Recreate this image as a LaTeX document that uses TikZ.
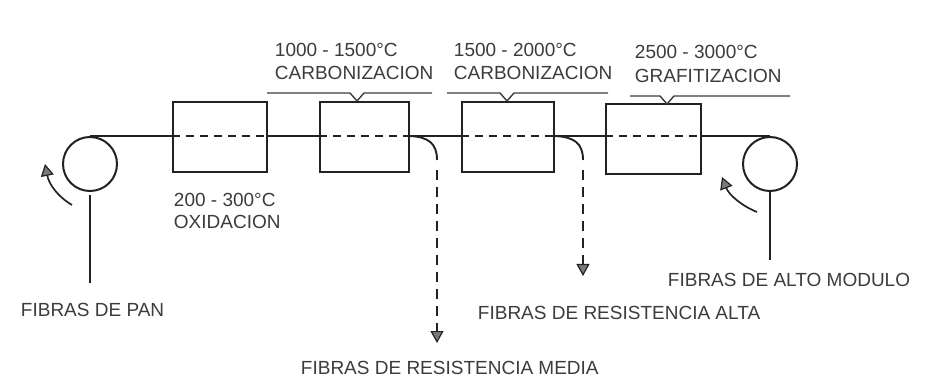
\documentclass[tikz,border=0pt]{standalone}
\usepackage{fontspec}
\setmainfont{Liberation Sans}
\usetikzlibrary{arrows.meta}
\definecolor{ink}{HTML}{222222}
\definecolor{txt}{HTML}{3C3C3C}
\definecolor{tipfill}{HTML}{7A7A7A}
\begin{document}
\begin{tikzpicture}[x=1pt,y=-1pt,
  line width=1.9pt, draw=ink,
  oven/.style={draw=ink, line width=2pt, minimum height=70pt, inner sep=0pt},
  roll/.style={draw=ink, line width=2pt, circle, minimum size=54pt, inner sep=0pt},
  lbl/.style={text=txt, font=\fontsize{19}{21}\selectfont, inner sep=0pt, anchor=west},
  inner/.style={dash pattern=on 8pt off 6pt, line width=1.9pt},
  drop/.style={dash pattern=on 10pt off 7pt, line width=1.8pt},
  tip/.style={-{Triangle[width=13pt,length=12pt,fill=tipfill,line width=1.2pt]}},
  brace/.style={line width=1.4pt, draw=txt}
]
\useasboundingbox (0,0) rectangle (926,387);
\fill[white] (0,0) rectangle (926,387);

% rolls
\node[roll] (lc) at (90,164) {};
\node[roll] (rc) at (770,164) {};

% ovens
\node[oven, minimum width=94pt] (b1) at (220,137) {};
\node[oven, minimum width=89pt] (b2) at (364.5,137) {};
\node[oven, minimum width=92pt] (b3) at (508,137) {};
\node[oven, minimum width=95pt] (b4) at (653.5,139) {};

% main fibre line
\draw (lc.north) -- (lc.north -| b1.west);
\draw[inner] (lc.north -| b1.west) -- (lc.north -| b1.east);
\draw (lc.north -| b1.east) -- (lc.north -| b2.west);
\draw[inner] (lc.north -| b2.west) -- (lc.north -| b2.east);
\draw (lc.north -| b2.east) -- (lc.north -| b3.west);
\draw[inner] (lc.north -| b3.west) -- (lc.north -| b3.east);
\draw (lc.north -| b3.east) -- (lc.north -| b4.west);
\draw[inner] (lc.north -| b4.west) -- (lc.north -| b4.east);
\draw (lc.north -| b4.east) -- (rc.north);

% supports
\coordinate (lbot) at (90,283);
\coordinate (rbot) at (770,260);
\draw ([yshift=-3pt]lc.south) -- (lbot);
\draw (rc.south) -- (rbot);

% rotation arrows
\coordinate (la1) at (72,205);
\coordinate (la2) at (45,164);
\draw[tip, line width=1.7pt] (la1) .. controls (57,196) and (49,184) .. (la2);
\coordinate (ra1) at (757,212);
\coordinate (ra2) at (722,177);
\draw[tip, line width=1.7pt] (ra1) .. controls (742,206) and (729,195) .. (ra2);

% branches
\coordinate (k1) at (437,160);
\coordinate (t1) at (437,343);
\draw (lc.north -| b2.east) .. controls (428,137) and (437,143) .. (k1);
\draw[drop] (437,170) -- (437,328);
\draw[tip, line width=1.5pt] (437,324) -- (t1);
\coordinate (k2) at (583,160);
\coordinate (t2) at (583,276);
\draw (lc.north -| b3.east) .. controls (574,137) and (583,143) .. (k2);
\draw[drop] (583,170) -- (583,260);
\draw[tip, line width=1.5pt] (583,257) -- (t2);

% braces
\coordinate (br2) at (357,101);
\draw[brace] (267,93) -- (350,93) -- (br2) -- (364,93) -- (432,93);
\coordinate (br3) at (507,101);
\draw[brace] (447,93) -- (500,93) -- (br3) -- (514,93) -- (608,93);
\coordinate (br4) at (667,104);
\draw[brace] (630,96) -- (660,96) -- (br4) -- (674,96) -- (790,96);

% labels
\node[lbl] (t200) at (173,200) {200 - 300°C};
\node[lbl] (tox) at (173,222) {OXIDACION};
\node[lbl] (t1000) at (274,50) {1000 - 1500°C};
\node[lbl] (tc1) at (274,73) {CARBONIZACION};
\node[lbl] (t1500) at (453,50) {1500 - 2000°C};
\node[lbl] (tc2) at (453,73) {CARBONIZACION};
\node[lbl] (t2500) at (634,52) {2500 - 3000°C};
\node[lbl] (tgr) at (634,76) {GRAFITIZACION};
\node[lbl] (fpan) at (20,310) {FIBRAS DE PAN};
\node[lbl] (fmed) at (300,368) {FIBRAS DE RESISTENCIA MEDIA};
\node[lbl] (falt) at (477,313) {FIBRAS DE RESISTENCIA ALTA};
\node[lbl] (fmod) at (667,280) {FIBRAS DE ALTO MODULO};
\end{tikzpicture}
\end{document}
